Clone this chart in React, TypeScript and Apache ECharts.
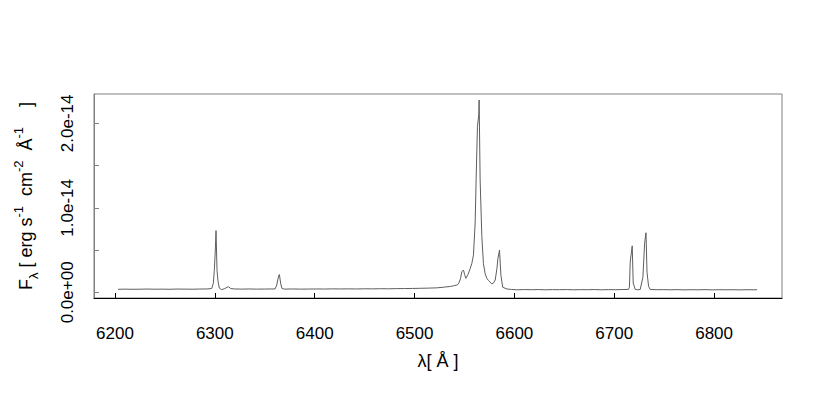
import React, { useEffect, useRef } from "react";
import * as echarts from "echarts";

// Wavelength (Å) and flux (units of 1e-14 erg s^-1 cm^-2 Å^-1)
const wavelength: number[] = [
  6203, 6210, 6217, 6225, 6232, 6240, 6248, 6255, 6262, 6270, 6278, 6285, 6292,
  6296.9, 6298.5, 6299.5, 6300.5, 6301.2, 6302.2, 6303.2, 6304.5, 6306.9, 6310, 6313.5, 6316,
  6320, 6327, 6334, 6342, 6350, 6356, 6360.3, 6362, 6364, 6364.7, 6366, 6367.3, 6370,
  6378, 6386, 6394, 6402, 6410, 6418, 6426, 6434, 6442, 6450, 6458, 6466, 6474, 6482,
  6490, 6498, 6506, 6514, 6522.3, 6530, 6536, 6539, 6542.4, 6544, 6546, 6547.4, 6549,
  6550.2, 6551.4, 6553.5, 6555.7, 6557.4, 6559, 6560.7, 6561.7, 6563, 6564.3, 6564.7,
  6565.7, 6567.4, 6569, 6570.7, 6572.4, 6574, 6577.5, 6579, 6580.8, 6582.5, 6583.5,
  6585.1, 6586.5, 6588.3, 6592.5, 6597, 6602.5, 6610, 6617, 6624, 6631, 6638, 6645,
  6652, 6659, 6666, 6673, 6680, 6687, 6694, 6701, 6708, 6714.3, 6715.2, 6716, 6718,
  6719, 6721, 6723.5, 6726, 6728.7, 6730.4, 6731.8, 6732.8, 6734.4, 6736, 6742, 6749,
  6756, 6763, 6770, 6777, 6784, 6791, 6798, 6805, 6812, 6819, 6826, 6833, 6840, 6843,
];
const flux: number[] = [
  0.036, 0.038, 0.036, 0.037, 0.039, 0.037, 0.038, 0.036, 0.039, 0.038, 0.037, 0.039, 0.04,
  0.045, 0.107, 0.26, 0.5, 0.73, 0.26, 0.13, 0.05, 0.032, 0.045, 0.067, 0.045,
  0.04, 0.038, 0.04, 0.038, 0.039, 0.04, 0.04, 0.086, 0.2, 0.21, 0.1, 0.045, 0.038,
  0.04, 0.038, 0.039, 0.04, 0.039, 0.041, 0.04, 0.041, 0.04, 0.042, 0.041, 0.043, 0.042, 0.044,
  0.045, 0.046, 0.048, 0.05, 0.053, 0.062, 0.07, 0.077, 0.086, 0.1, 0.16, 0.245, 0.264,
  0.21, 0.166, 0.21, 0.28, 0.343, 0.44, 0.82, 1.35, 1.96, 2.1, 2.276,
  1.33, 0.66, 0.34, 0.22, 0.166, 0.14, 0.1, 0.11, 0.146, 0.28, 0.4,
  0.5, 0.2, 0.06, 0.04, 0.034, 0.03, 0.033, 0.031, 0.033, 0.03, 0.032, 0.031,
  0.033, 0.03, 0.032, 0.031, 0.033, 0.03, 0.032, 0.031, 0.033, 0.035, 0.06, 0.36, 0.55,
  0.11, 0.035, 0.03, 0.034, 0.18, 0.58, 0.705, 0.24, 0.07, 0.034, 0.031, 0.032,
  0.03, 0.032, 0.029, 0.031, 0.03, 0.032, 0.029, 0.031, 0.03, 0.031, 0.029, 0.031, 0.03, 0.031,
];

const xTickValues: number[] = [6200, 6300, 6400, 6500, 6600, 6700, 6800];
const yTickValues: number[] = [0, 0.5, 1, 1.5, 2];
const yLabelValues: number[] = [0, 1, 2];
const yTickLabels: string[] = ["0.0e+00", "1.0e-14", "2.0e-14"];

const FONT = "'Liberation Sans', Arial, sans-serif";

export default function App() {
  const ref = useRef<HTMLDivElement>(null);

  useEffect(() => {
    if (!ref.current) return;
    const chart = echarts.init(ref.current, undefined, { renderer: "svg" });
    const data = wavelength.map((w, i) => [w, flux[i]]);
    chart.setOption({
      animation: false,
      backgroundColor: "#ffffff",
      grid: {
        left: 94,
        right: 48,
        top: 94,
        bottom: 117,
        show: true,
        borderColor: "#808080",
        borderWidth: 1,
        backgroundColor: "transparent",
      },
      xAxis: {
        type: "value",
        min: 6179,
        max: 6868,
        name: "λ[ Å ]",
        nameLocation: "middle",
        nameGap: 54,
        nameTextStyle: { fontFamily: FONT, fontSize: 18, color: "#000" },
        axisLine: { show: true, onZero: false, lineStyle: { color: "#000", width: 1 } },
        axisTick: { show: true, inside: true, length: 5, customValues: xTickValues, lineStyle: { color: "#000" } },
        axisLabel: {
          customValues: xTickValues,
          margin: 27,
          fontFamily: FONT,
          fontSize: 17,
          color: "#000",
          formatter: (v: number) => String(v),
        },
        splitLine: { show: false },
      },
      yAxis: {
        type: "value",
        min: -0.067,
        max: 2.347,
        name: "{main|F}{sub|λ}{main| [ erg s}{sup|-1}{main|  cm}{sup|-2}{main|  Å}{sup|-1}{main|    ]}",
        nameLocation: "middle",
        nameRotate: 90,
        nameGap: 54,
        nameTextStyle: {
          fontFamily: FONT,
          fontSize: 18,
          color: "#000",
          rich: {
            main: { fontFamily: FONT, fontSize: 18, lineHeight: 28, verticalAlign: "middle", color: "#000" },
            sub: { fontFamily: FONT, fontSize: 13, lineHeight: 13, verticalAlign: "bottom", color: "#000" },
            sup: { fontFamily: FONT, fontSize: 13, lineHeight: 13, verticalAlign: "top", color: "#000" },
          },
        },
        axisLine: { show: true, onZero: false, lineStyle: { color: "#808080", width: 1 } },
        axisTick: { show: true, inside: true, length: 5, customValues: yTickValues, lineStyle: { color: "#808080" } },
        axisLabel: {
          customValues: yLabelValues,
          rotate: 90,
          margin: 18,
          fontFamily: FONT,
          fontSize: 17,
          color: "#000",
          formatter: (v: number) => {
            const i = yLabelValues.indexOf(v);
            return i >= 0 ? yTickLabels[i] : "";
          },
        },
        splitLine: { show: false },
      },
      series: [
        {
          type: "line",
          data,
          showSymbol: false,
          symbol: "none",
          lineStyle: { color: "#5e5e5e", width: 1 },
        },
      ],
    });
    return () => chart.dispose();
  }, []);

  return (
    <div
      ref={ref}
      style={{ position: "absolute", left: 0, top: 0, width: 830, height: 415, background: "#fff" }}
    />
  );
}
